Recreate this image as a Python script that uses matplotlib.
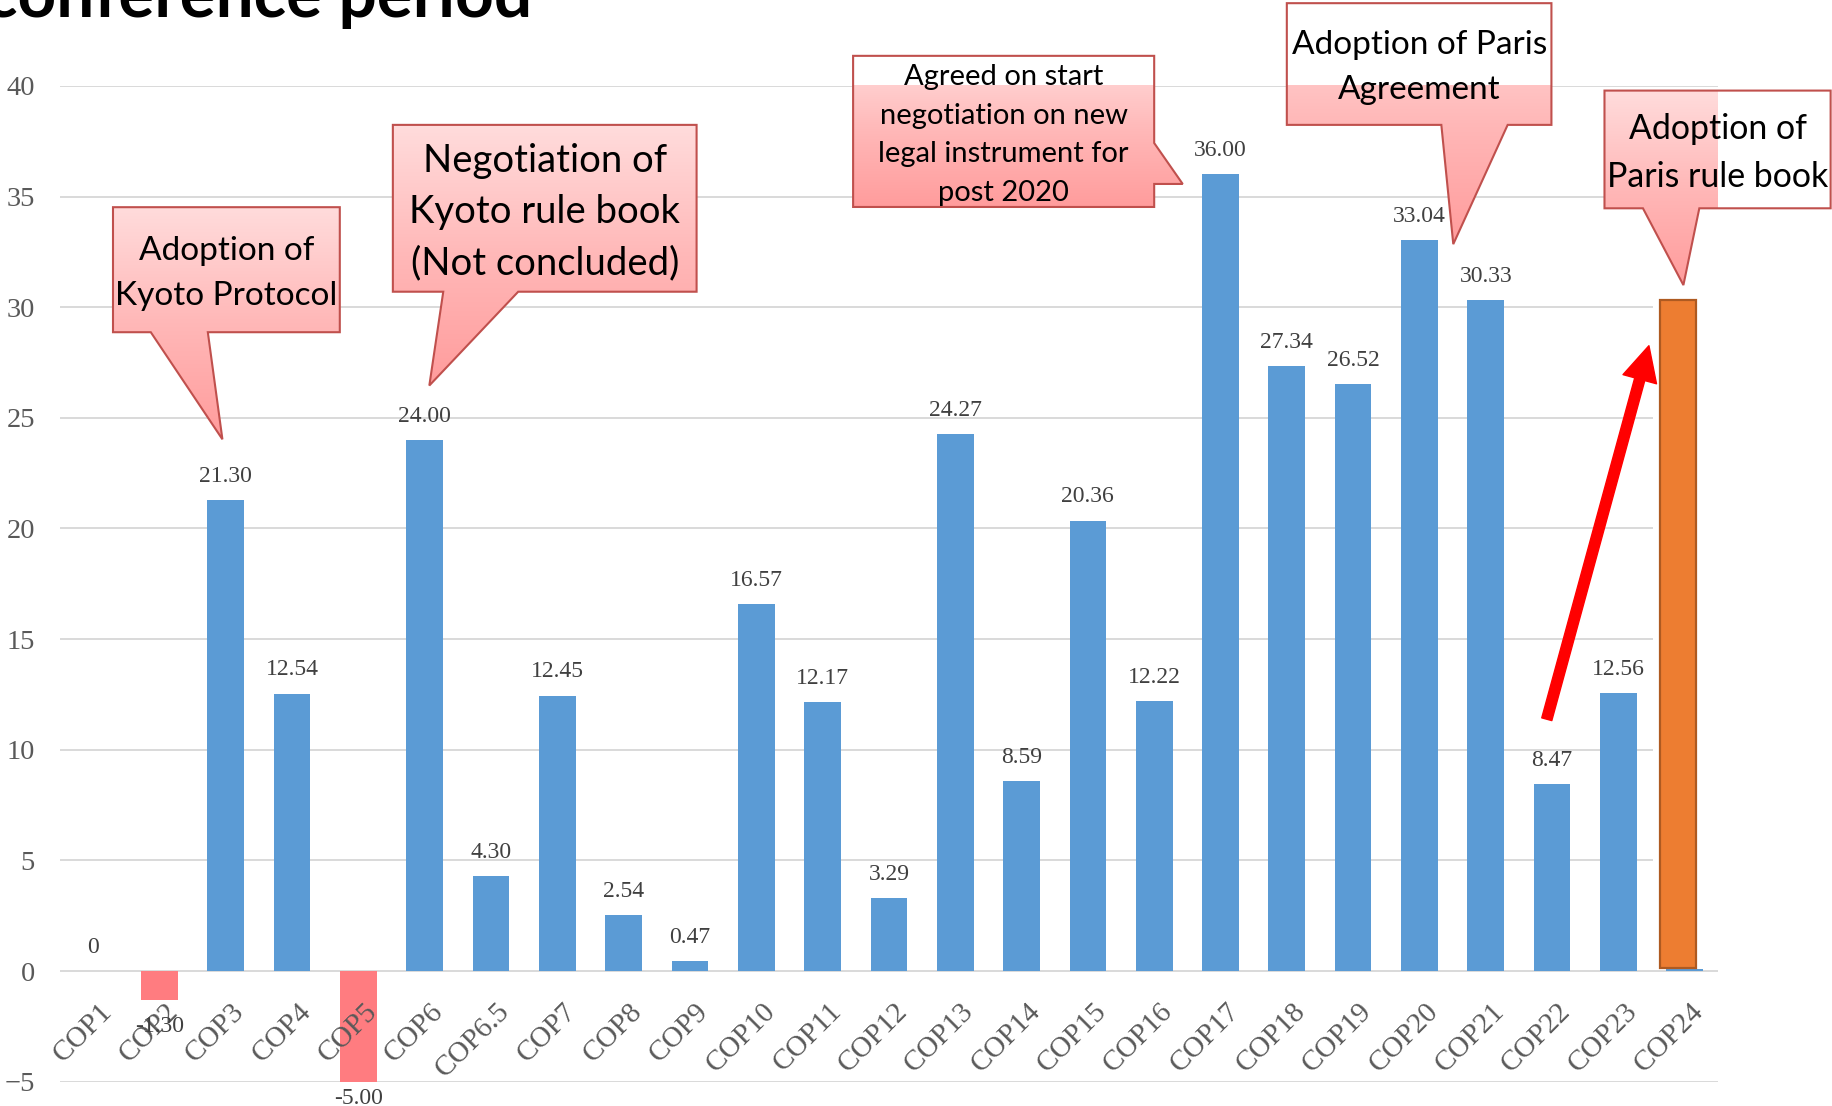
"""
Bar chart: yearly change per COP session, with callouts for key milestones.
"""

import numpy as np
import matplotlib.pyplot as plt
from matplotlib.patches import Polygon, FancyArrowPatch
from matplotlib.colors import LinearSegmentedColormap

plt.rcParams['font.family'] = ['Liberation Serif', 'DejaVu Serif']

# Data
categories = ['COP1', 'COP2', 'COP3', 'COP4', 'COP5', 'COP6', 'COP6.5', 'COP7', 'COP8',
              'COP9', 'COP10', 'COP11', 'COP12', 'COP13', 'COP14', 'COP15', 'COP16',
              'COP17', 'COP18', 'COP19', 'COP20', 'COP21', 'COP22', 'COP23', 'COP24']
values = [0, -1.30, 21.30, 12.54, -5.00, 24.00, 4.30, 12.45, 2.54,
          0.47, 16.57, 12.17, 3.29, 24.27, 8.59, 20.36, 12.22,
          36.00, 27.34, 26.52, 33.04, 30.33, 8.47, 12.56, 0.10]
value_labels = ['0', '-1.30', '21.30', '12.54', '-5.00', '24.00', '4.30', '12.45', '2.54',
                '0.47', '16.57', '12.17', '3.29', '24.27', '8.59', '20.36', '12.22',
                '36.00', '27.34', '26.52', '33.04', '30.33', '8.47', '12.56', '']
y_ticks = [-5, 0, 5, 10, 15, 20, 25, 30, 35, 40]

# orange highlight bar drawn over COP24
highlight_cat = 'COP24'
highlight_base = 0.13
highlight_top = 30.33

callout_texts = [
    "Adoption of\nKyoto Protocol",
    "Negotiation of\nKyoto rule book\n(Not concluded)",
    "Agreed on start\nnegotiation on new\nlegal instrument for\npost 2020",
    "Adoption of Paris\nAgreement",
    "Adoption of\nParis rule book",
]

# Layout of the callouts, in data units (category index, value)
# box = (x0, x1, y0, y1)
callout_boxes = [
    (0.30, 3.72, 28.87, 34.52),
    (4.52, 9.10, 30.70, 38.24),
    (11.46, 16.00, 34.53, 41.36),
    (18.00, 21.99, 38.24, 43.74),
    (22.79, 26.20, 34.47, 39.79),
]
# pointer = (side, base_a, base_b, tip_x, tip_y)
callout_pointers = [
    ('bottom', 0.87, 1.73, 1.95, 24.03),
    ('bottom', 5.28, 6.41, 5.07, 26.46),
    ('right', 37.42, 35.57, 16.43, 35.57),
    ('bottom', 20.33, 21.33, 20.51, 32.85),
    ('bottom', 23.37, 24.22, 23.98, 31.00),
]
callout_sizes = [24, 27.5, 21, 24, 24.4]
callout_spacing = [1.61, 1.52, 1.61, 1.65, 1.65]

# red arrow from COP22 towards the COP24 bar
arrow_start = (21.92, 11.38)
arrow_end = (23.46, 28.26)

BLUE = '#5B9BD5'
PINK = '#FF7C80'
GRID = '#D9D9D9'

pink_grad = LinearSegmentedColormap.from_list('pinkgrad', ['#FFDCDC', '#FFB8B8', '#FF9C9C'])


def draw_callout(ax, box, pointer, text, size, spacing):
    x0, x1, y0, y1 = box
    side, a, b, tx, ty = pointer
    if side == 'bottom':
        verts = [(x0, y1), (x1, y1), (x1, y0), (b, y0), (tx, ty), (a, y0), (x0, y0)]
    else:
        verts = [(x0, y1), (x1, y1), (x1, a), (tx, ty), (x1, b), (x1, y0), (x0, y0)]
    poly = Polygon(verts, closed=True, facecolor='none', edgecolor='#C0504D',
                   linewidth=1.5, zorder=6, clip_on=False)
    ax.add_patch(poly)
    xs = [v[0] for v in verts]
    ys = [v[1] for v in verts]
    grad = np.linspace(0, 1, 256).reshape(-1, 1)
    ax.imshow(grad, cmap=pink_grad, aspect='auto', origin='upper',
              extent=(min(xs), max(xs), min(ys), max(ys)),
              interpolation='bilinear', clip_path=poly, zorder=5)
    # text block centred in the box, nudged slightly down
    ax.text((x0 + x1) / 2, (y0 + y1) / 2 - 0.16, text, ha='center', va='center',
            fontsize=size, family='Lato', color='black', linespacing=spacing,
            zorder=7, clip_on=False)


fig = plt.figure(figsize=(18.33, 11.06), dpi=100)
ax = fig.add_axes([0.0327, 0.0220, 0.9045, 0.9003])

x = np.arange(len(categories))
colors = [PINK if v < 0 else BLUE for v in values]
ax.bar(x, values, width=0.553, color=colors, zorder=3)

# white patch hiding gridlines around the highlight, then the orange bar
i24 = categories.index(highlight_cat)
ax.bar(i24 + 0.01, 39.3, bottom=0.2, width=0.98, color='white', zorder=2)
ax.bar(i24 - 0.1, highlight_top - highlight_base, bottom=highlight_base, width=0.553,
       color='#ED7D31', edgecolor='#AE5A21', linewidth=1.6, zorder=4)

# value labels (drawn above the category labels)
for i, (v, lab) in enumerate(zip(values, value_labels)):
    if not lab:
        continue
    if v >= 0:
        ax.annotate(lab, (i, v), xytext=(0, 13), textcoords='offset points',
                    ha='center', va='baseline', fontsize=17, color='#404040', zorder=4.5)
    else:
        off = -12 if v > y_ticks[0] else -4.5
        ax.annotate(lab, (i, v), xytext=(0, off), textcoords='offset points',
                    ha='center', va='top', fontsize=17, color='#404040', zorder=4.5,
                    annotation_clip=False)

# category labels along the zero line
for i, cat in enumerate(categories):
    ax.annotate(cat, (i, 0), xytext=(4, -19.5), textcoords='offset points',
                rotation=45, rotation_mode='anchor', ha='right', va='top',
                fontsize=21, color='#595959', zorder=4)

ax.set_xticks(x)
ax.set_xticklabels([])
ax.tick_params(axis='x', length=0)
ax.set_yticks(y_ticks)
ax.tick_params(axis='y', length=0, pad=18, labelsize=20.5, labelcolor='#595959')
for s in ax.spines.values():
    s.set_visible(False)
ax.set_axisbelow(True)
ax.yaxis.grid(True, color=GRID, linewidth=1.4)

for box, ptr, txt, sz, sp in zip(callout_boxes, callout_pointers, callout_texts,
                                 callout_sizes, callout_spacing):
    draw_callout(ax, box, ptr, txt, sz, sp)

arrow = FancyArrowPatch(arrow_start, arrow_end, mutation_scale=1,
                        arrowstyle='simple,head_length=25,head_width=25,tail_width=7.5',
                        color='#FF0000', shrinkA=0, shrinkB=0, zorder=8, clip_on=False)
ax.add_patch(arrow)

ax.set_xlim(-0.5, len(categories) - 0.5)
ax.set_ylim(y_ticks[0], y_ticks[-1])

fig.text(-0.008, 1 - 16.7 / 1106, 'conference period', fontsize=48.5, fontweight='bold',
         family='Lato', ha='left', va='baseline', color='black')

fig.savefig('out.png', dpi=100)
